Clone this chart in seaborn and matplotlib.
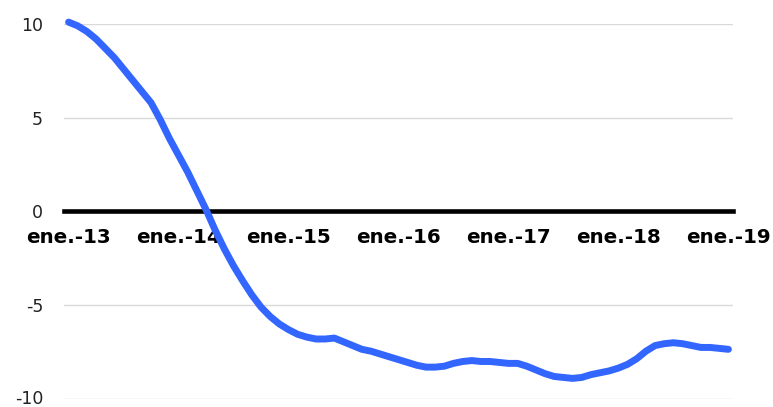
import numpy as np
import pandas as pd
import matplotlib
matplotlib.use("Agg")
import matplotlib.pyplot as plt
import matplotlib.transforms as mtransforms
import seaborn as sns

# monthly values, ene.-13 .. ene.-19
values = [
    10.1, 9.9, 9.6, 9.2, 8.7, 8.2, 7.6, 7.0, 6.4, 5.8,
    4.9, 3.9, 3.0, 2.1, 1.1, 0.1, -1.0, -2.0, -2.9, -3.7,
    -4.45, -5.1, -5.6, -6.0, -6.3, -6.55, -6.7, -6.8, -6.8, -6.75,
    -6.95, -7.15, -7.35, -7.45, -7.6, -7.75, -7.9, -8.05, -8.2, -8.3,
    -8.3, -8.25, -8.1, -8.0, -7.95, -8.0, -8.0, -8.05, -8.1, -8.1,
    -8.25, -8.45, -8.65, -8.8, -8.85, -8.9, -8.85, -8.7, -8.6, -8.5,
    -8.35, -8.15, -7.85, -7.45, -7.15, -7.05, -7.0, -7.05, -7.15, -7.25,
    -7.25, -7.3, -7.35,
]
tick_labels = ["ene.-13", "ene.-14", "ene.-15", "ene.-16", "ene.-17", "ene.-18", "ene.-19"]
y_ticks = [-10, -5, 0, 5, 10]

df = pd.DataFrame({"month": np.arange(len(values)), "value": values})

sns.set_style("white")
plt.rcParams["font.family"] = ["DejaVu Sans"]
plt.rcParams["axes.unicode_minus"] = False

fig = plt.figure(figsize=(7.73, 4.07), dpi=100)
ax = fig.add_axes([64 / 773, 1 - 399 / 407, (733 - 64) / 773, (399 - 24) / 407])

sns.lineplot(data=df, x="month", y="value", ax=ax, color="#3366ff",
             linewidth=5, clip_on=False, zorder=3)

# zero line doubles as the x axis
for s in ["top", "right", "left"]:
    ax.spines[s].set_visible(False)
ax.spines["bottom"].set_position(("data", 0))
ax.spines["bottom"].set_linewidth(3.3)
ax.spines["bottom"].set_color("black")
ax.spines["bottom"].set_zorder(2)

ax.set_xlim(-0.5, len(values) - 0.5)
ax.set_ylim(-10, 10)
ax.set_yticks(y_ticks)
ax.set_yticklabels([str(v) for v in y_ticks], fontsize=12.5, color="#222222")
ax.set_xticks(np.arange(0, len(values), 12))
ax.set_xticklabels(tick_labels, fontsize=14.3, fontweight="bold", color="black")

ax.grid(axis="y", color="#d9d9d9", linewidth=1)
ax.set_axisbelow(True)
ax.tick_params(axis="x", length=0, pad=12)
ax.tick_params(axis="y", length=0, pad=15)
ax.set_xlabel("")
ax.set_ylabel("")

# nudge the bottom label up a little so it stays inside the figure
t = ax.yaxis.get_major_ticks()[0]
t.label1.set_transform(t.label1.get_transform()
                       + mtransforms.ScaledTranslation(0, 1.5 / 72, fig.dpi_scale_trans))

fig.savefig("out.png", dpi=100)
